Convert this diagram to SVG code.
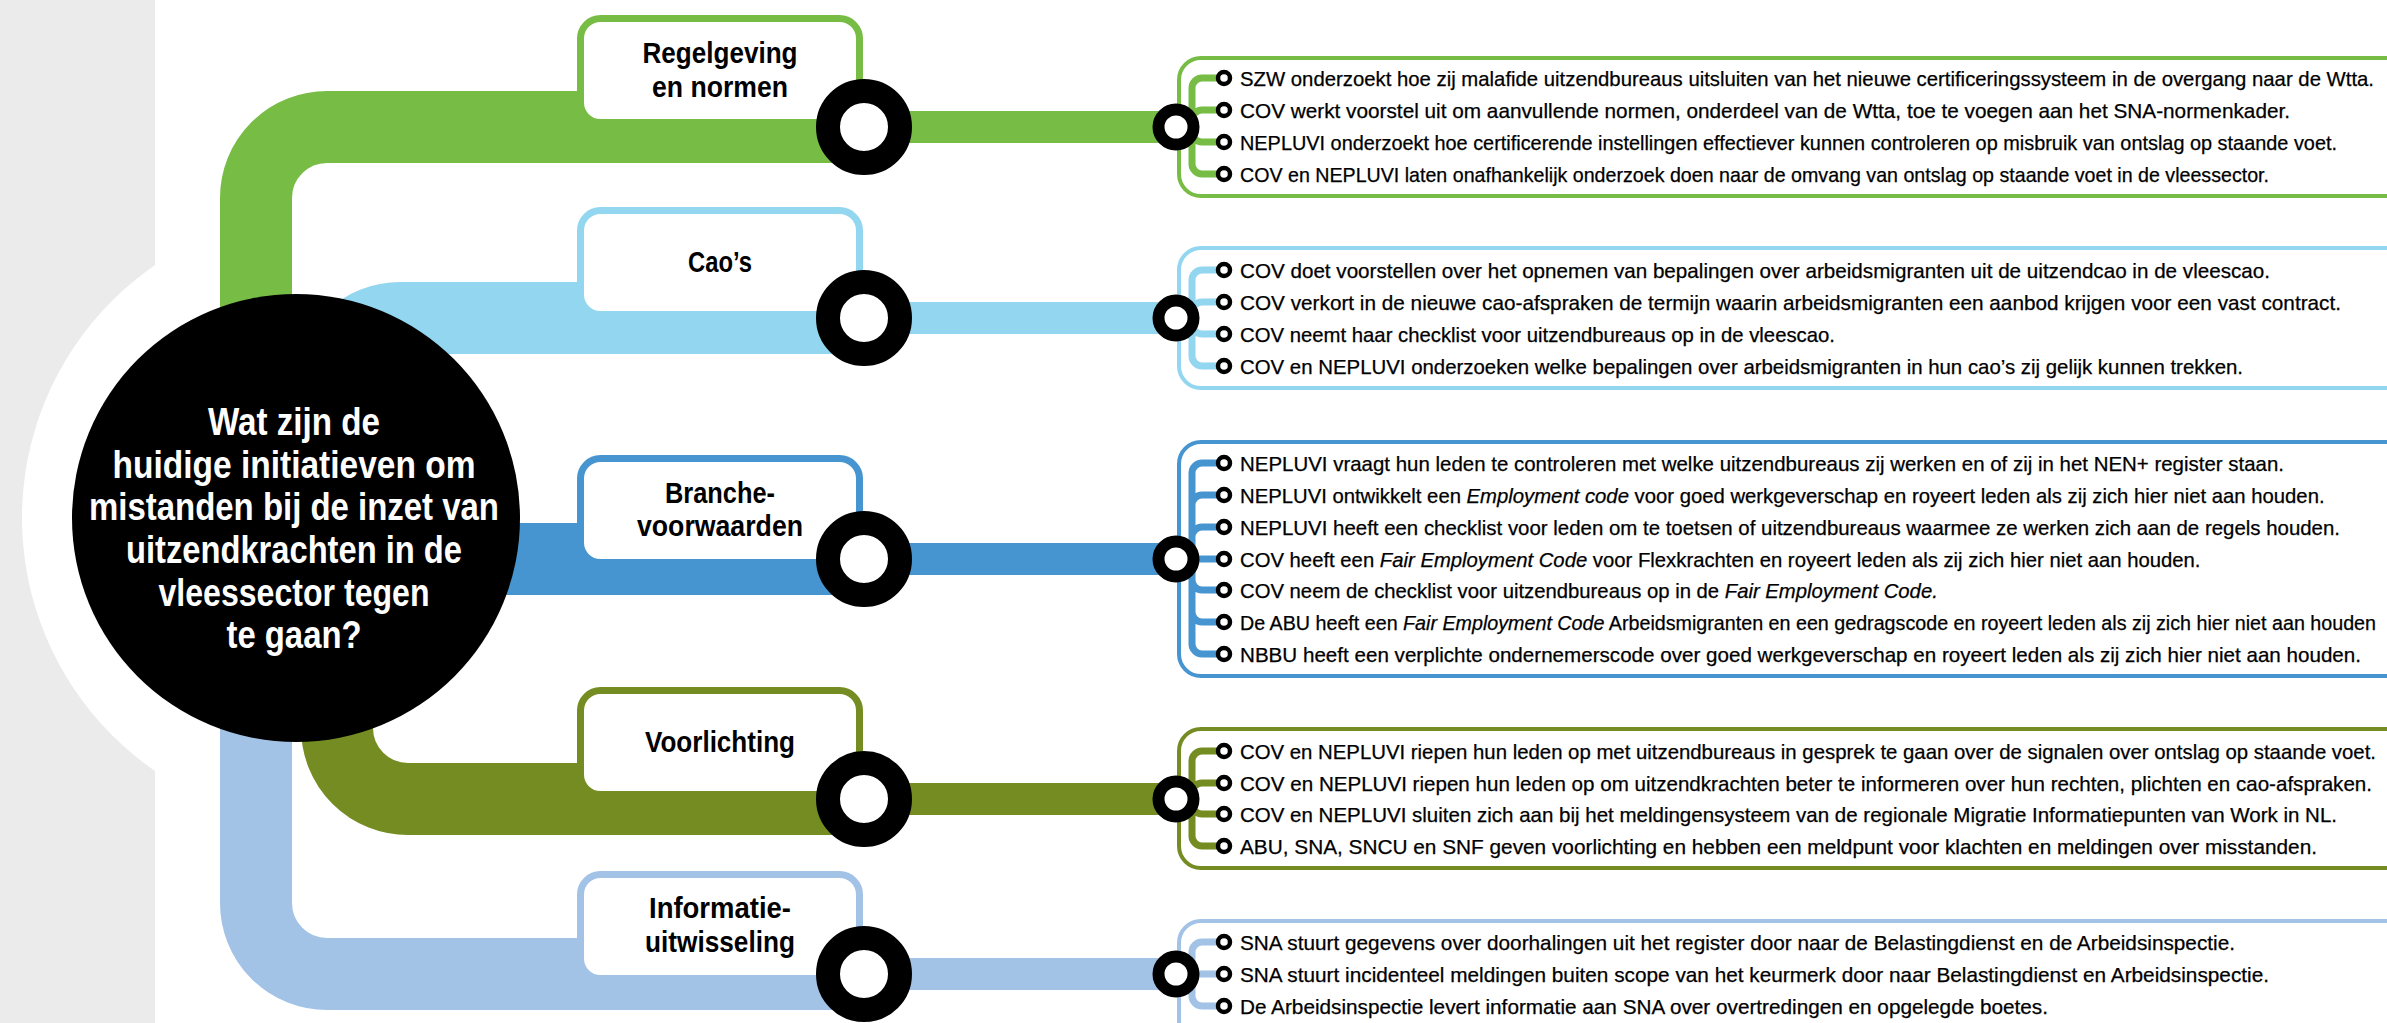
<svg xmlns="http://www.w3.org/2000/svg" width="2387" height="1023" viewBox="0 0 2387 1023">
<style>
.band{fill:none;stroke-width:72}
.bar{fill:none;stroke-width:32}
.bus{fill:none;stroke-width:7}
.frame{fill:none;stroke-width:4}
.box{fill:#fff;stroke-width:7}
.ring{fill:#fff;stroke:#000;stroke-width:24}
.sring{fill:#fff;stroke:#000;stroke-width:12}
.dot{fill:#fff;stroke:#000;stroke-width:4.5}
.lbl{font-family:"Liberation Sans",Arial,sans-serif;font-weight:bold;font-size:29px;fill:#000;text-anchor:middle}
.q{font-family:"Liberation Sans",Arial,sans-serif;font-weight:bold;font-size:38px;fill:#fff;text-anchor:middle}
.it{font-family:"Liberation Sans",Arial,sans-serif;font-size:20.3px;fill:#000;stroke:#000;stroke-width:0.25}
.em{font-style:italic}
.c1{stroke:#77bd45}.c2{stroke:#92d6f0}.c3{stroke:#4695d0}.c4{stroke:#748c21}.c5{stroke:#a2c2e6}
</style>
<rect x="0" y="0" width="2387" height="1023" fill="#fff"/>
<rect x="0" y="0" width="155" height="1023" fill="#ebebeb"/>
<circle cx="329" cy="518" r="307" fill="#fff"/>

<g id="connectors">
  <path class="band c1" d="M 870 127 H 327 A 71 71 0 0 0 256 198 V 420"/>
  <path class="band c2" d="M 870 318 H 400 A 71 71 0 0 0 329 389 V 450"/>
  <path class="band c3" d="M 870 559 H 450"/>
  <path class="band c4" d="M 870 799 H 408 A 71 71 0 0 1 337 728 V 600"/>
  <path class="band c5" d="M 870 974 H 327 A 71 71 0 0 1 256 903 V 600"/>
  <path class="bar c1" d="M 864 127 H 1176"/>
  <path class="bar c2" d="M 864 318 H 1176"/>
  <path class="bar c3" d="M 864 559 H 1176"/>
  <path class="bar c4" d="M 864 799 H 1176"/>
  <path class="bar c5" d="M 864 974 H 1176"/>
  <path class="bus c1" d="M 1192 127 V 88 A 10 10 0 0 1 1202 78 H 1218 M 1192 127 V 120 A 10 10 0 0 1 1202 110 H 1218 M 1192 127 V 132 A 10 10 0 0 0 1202 142 H 1218 M 1192 127 V 164 A 10 10 0 0 0 1202 174 H 1218"/>
  <path class="bus c2" d="M 1192 318 V 280 A 10 10 0 0 1 1202 270 H 1218 M 1192 318 V 312 A 10 10 0 0 1 1202 302 H 1218 M 1192 318 V 324 A 10 10 0 0 0 1202 334 H 1218 M 1192 318 V 356 A 10 10 0 0 0 1202 366 H 1218"/>
  <path class="bus c3" d="M 1192 559 V 473 A 10 10 0 0 1 1202 463 H 1218 M 1192 559 V 505 A 10 10 0 0 1 1202 495 H 1218 M 1192 559 V 537 A 10 10 0 0 1 1202 527 H 1218 M 1192 559 H 1218 M 1192 559 V 580 A 10 10 0 0 0 1202 590 H 1218 M 1192 559 V 612 A 10 10 0 0 0 1202 622 H 1218 M 1192 559 V 644 A 10 10 0 0 0 1202 654 H 1218"/>
  <path class="bus c4" d="M 1192 799 V 761 A 10 10 0 0 1 1202 751 H 1218 M 1192 799 V 793 A 10 10 0 0 1 1202 783 H 1218 M 1192 799 V 804 A 10 10 0 0 0 1202 814 H 1218 M 1192 799 V 836 A 10 10 0 0 0 1202 846 H 1218"/>
  <path class="bus c5" d="M 1192 974 V 952 A 10 10 0 0 1 1202 942 H 1218 M 1192 974 H 1218 M 1192 974 V 996 A 10 10 0 0 0 1202 1006 H 1218"/>
</g>

<g id="center">
  <circle cx="296" cy="518" r="224" fill="#000"/>
  <text class="q" x="294" y="435" textLength="172" lengthAdjust="spacingAndGlyphs">Wat zijn de</text>
  <text class="q" x="294" y="478" textLength="363" lengthAdjust="spacingAndGlyphs">huidige initiatieven om</text>
  <text class="q" x="294" y="520" textLength="410" lengthAdjust="spacingAndGlyphs">mistanden bij de inzet van</text>
  <text class="q" x="294" y="563" textLength="336" lengthAdjust="spacingAndGlyphs">uitzendkrachten in de</text>
  <text class="q" x="294" y="606" textLength="271" lengthAdjust="spacingAndGlyphs">vleessector tegen</text>
  <text class="q" x="294" y="648" textLength="135" lengthAdjust="spacingAndGlyphs">te gaan?</text>
</g>

<g id="node-regelgeving">
  <rect class="box c1" x="580.5" y="18.5" width="279" height="104" rx="20"/>
  <text class="lbl" x="720" y="63" textLength="155" lengthAdjust="spacingAndGlyphs">Regelgeving</text>
  <text class="lbl" x="720" y="97" textLength="136" lengthAdjust="spacingAndGlyphs">en normen</text>
  <circle class="ring" cx="864" cy="127" r="36"/>
</g>
<g id="node-caos">
  <rect class="box c2" x="580.5" y="210.5" width="279" height="104" rx="20"/>
  <text class="lbl" x="720" y="272" textLength="64" lengthAdjust="spacingAndGlyphs">Cao’s</text>
  <circle class="ring" cx="864" cy="318" r="36"/>
</g>
<g id="node-branche">
  <rect class="box c3" x="580.5" y="458.5" width="279" height="104" rx="20"/>
  <text class="lbl" x="720" y="503" textLength="110" lengthAdjust="spacingAndGlyphs">Branche-</text>
  <text class="lbl" x="720" y="536" textLength="166" lengthAdjust="spacingAndGlyphs">voorwaarden</text>
  <circle class="ring" cx="864" cy="559" r="36"/>
</g>
<g id="node-voorlichting">
  <rect class="box c4" x="580.5" y="690.5" width="279" height="104" rx="20"/>
  <text class="lbl" x="720" y="752" textLength="150" lengthAdjust="spacingAndGlyphs">Voorlichting</text>
  <circle class="ring" cx="864" cy="799" r="36"/>
</g>
<g id="node-informatie">
  <rect class="box c5" x="580.5" y="874.5" width="279" height="104" rx="20"/>
  <text class="lbl" x="720" y="918" textLength="142" lengthAdjust="spacingAndGlyphs">Informatie-</text>
  <text class="lbl" x="720" y="952" textLength="150" lengthAdjust="spacingAndGlyphs">uitwisseling</text>
  <circle class="ring" cx="864" cy="974" r="36"/>
</g>

<g id="list-regelgeving">
  <rect class="frame c1" x="1179" y="58" width="1400" height="138" rx="22"/>
  <circle class="sring" cx="1176" cy="127" r="17.5"/>
  <circle class="dot" cx="1224" cy="78" r="6"/><circle class="dot" cx="1224" cy="110" r="6"/><circle class="dot" cx="1224" cy="142" r="6"/><circle class="dot" cx="1224" cy="174" r="6"/>
  <text class="it" x="1240" y="85.5" textLength="1134" lengthAdjust="spacingAndGlyphs">SZW onderzoekt hoe zij malafide uitzendbureaus uitsluiten van het nieuwe certificeringssysteem in de overgang naar de Wtta.</text>
  <text class="it" x="1240" y="117.5" textLength="1050" lengthAdjust="spacingAndGlyphs">COV werkt voorstel uit om aanvullende normen, onderdeel van de Wtta, toe te voegen aan het SNA-normenkader.</text>
  <text class="it" x="1240" y="149.5" textLength="1097" lengthAdjust="spacingAndGlyphs">NEPLUVI onderzoekt hoe certificerende instellingen effectiever kunnen controleren op misbruik van ontslag op staande voet.</text>
  <text class="it" x="1240" y="181.5" textLength="1029" lengthAdjust="spacingAndGlyphs">COV en NEPLUVI laten onafhankelijk onderzoek doen naar de omvang van ontslag op staande voet in de vleessector.</text>
</g>

<g id="list-caos">
  <rect class="frame c2" x="1179" y="248" width="1400" height="140" rx="22"/>
  <circle class="sring" cx="1176" cy="318" r="17.5"/>
  <circle class="dot" cx="1224" cy="270" r="6"/><circle class="dot" cx="1224" cy="302" r="6"/><circle class="dot" cx="1224" cy="334" r="6"/><circle class="dot" cx="1224" cy="366" r="6"/>
  <text class="it" x="1240" y="277.5" textLength="1030" lengthAdjust="spacingAndGlyphs">COV doet voorstellen over het opnemen van bepalingen over arbeidsmigranten uit de uitzendcao in de vleescao.</text>
  <text class="it" x="1240" y="309.5" textLength="1101" lengthAdjust="spacingAndGlyphs">COV verkort in de nieuwe cao-afspraken de termijn waarin arbeidsmigranten een aanbod krijgen voor een vast contract.</text>
  <text class="it" x="1240" y="341.5" textLength="595" lengthAdjust="spacingAndGlyphs">COV neemt haar checklist voor uitzendbureaus op in de vleescao.</text>
  <text class="it" x="1240" y="373.5" textLength="1003" lengthAdjust="spacingAndGlyphs">COV en NEPLUVI onderzoeken welke bepalingen over arbeidsmigranten in hun cao’s zij gelijk kunnen trekken.</text>
</g>

<g id="list-branche">
  <rect class="frame c3" x="1179" y="442" width="1400" height="234" rx="22"/>
  <circle class="sring" cx="1176" cy="559" r="17.5"/>
  <circle class="dot" cx="1224" cy="463" r="6"/><circle class="dot" cx="1224" cy="495" r="6"/><circle class="dot" cx="1224" cy="527" r="6"/><circle class="dot" cx="1224" cy="559" r="6"/><circle class="dot" cx="1224" cy="590" r="6"/><circle class="dot" cx="1224" cy="622" r="6"/><circle class="dot" cx="1224" cy="654" r="6"/>
  <text class="it" x="1240" y="470.5" textLength="1044" lengthAdjust="spacingAndGlyphs">NEPLUVI vraagt hun leden te controleren met welke uitzendbureaus zij werken en of zij in het NEN+ register staan.</text>
  <text class="it" x="1240" y="502.5">NEPLUVI ontwikkelt een <tspan class="em">Employment code</tspan> voor goed werkgeverschap en royeert leden als zij zich hier niet aan houden.</text>
  <text class="it" x="1240" y="534.5" textLength="1100" lengthAdjust="spacingAndGlyphs">NEPLUVI heeft een checklist voor leden om te toetsen of uitzendbureaus waarmee ze werken zich aan de regels houden.</text>
  <text class="it" x="1240" y="566.5">COV heeft een <tspan class="em">Fair Employment Code</tspan> voor Flexkrachten en royeert leden als zij zich hier niet aan houden.</text>
  <text class="it" x="1240" y="597.5">COV neem de checklist voor uitzendbureaus op in de <tspan class="em">Fair Employment Code.</tspan></text>
  <text class="it" x="1240" y="629.5" style="font-size:19.7px">De ABU heeft een <tspan class="em">Fair Employment Code</tspan> Arbeidsmigranten en een gedragscode en royeert leden als zij zich hier niet aan houden</text>
  <text class="it" x="1240" y="661.5" textLength="1121" lengthAdjust="spacingAndGlyphs">NBBU heeft een verplichte ondernemerscode over goed werkgeverschap en royeert leden als zij zich hier niet aan houden.</text>
</g>

<g id="list-voorlichting">
  <rect class="frame c4" x="1179" y="729" width="1400" height="139" rx="22"/>
  <circle class="sring" cx="1176" cy="799" r="17.5"/>
  <circle class="dot" cx="1224" cy="751" r="6"/><circle class="dot" cx="1224" cy="783" r="6"/><circle class="dot" cx="1224" cy="814" r="6"/><circle class="dot" cx="1224" cy="846" r="6"/>
  <text class="it" x="1240" y="758.5" textLength="1136" lengthAdjust="spacingAndGlyphs">COV en NEPLUVI riepen hun leden op met uitzendbureaus in gesprek te gaan over de signalen over ontslag op staande voet.</text>
  <text class="it" x="1240" y="790.5" textLength="1132" lengthAdjust="spacingAndGlyphs">COV en NEPLUVI riepen hun leden op om uitzendkrachten beter te informeren over hun rechten, plichten en cao-afspraken.</text>
  <text class="it" x="1240" y="821.5" textLength="1097" lengthAdjust="spacingAndGlyphs">COV en NEPLUVI sluiten zich aan bij het meldingensysteem van de regionale Migratie Informatiepunten van Work in NL.</text>
  <text class="it" x="1240" y="853.5" textLength="1077" lengthAdjust="spacingAndGlyphs">ABU, SNA, SNCU en SNF geven voorlichting en hebben een meldpunt voor klachten en meldingen over misstanden.</text>
</g>

<g id="list-informatie">
  <rect class="frame c5" x="1179" y="921" width="1400" height="140" rx="22"/>
  <circle class="sring" cx="1176" cy="974" r="17.5"/>
  <circle class="dot" cx="1224" cy="942" r="6"/><circle class="dot" cx="1224" cy="974" r="6"/><circle class="dot" cx="1224" cy="1006" r="6"/>
  <text class="it" x="1240" y="949.5" textLength="995" lengthAdjust="spacingAndGlyphs">SNA stuurt gegevens over doorhalingen uit het register door naar de Belastingdienst en de Arbeidsinspectie.</text>
  <text class="it" x="1240" y="981.5" textLength="1029" lengthAdjust="spacingAndGlyphs">SNA stuurt incidenteel meldingen buiten scope van het keurmerk door naar Belastingdienst en Arbeidsinspectie.</text>
  <text class="it" x="1240" y="1013.5" textLength="808" lengthAdjust="spacingAndGlyphs">De Arbeidsinspectie levert informatie aan SNA over overtredingen en opgelegde boetes.</text>
</g>
</svg>
